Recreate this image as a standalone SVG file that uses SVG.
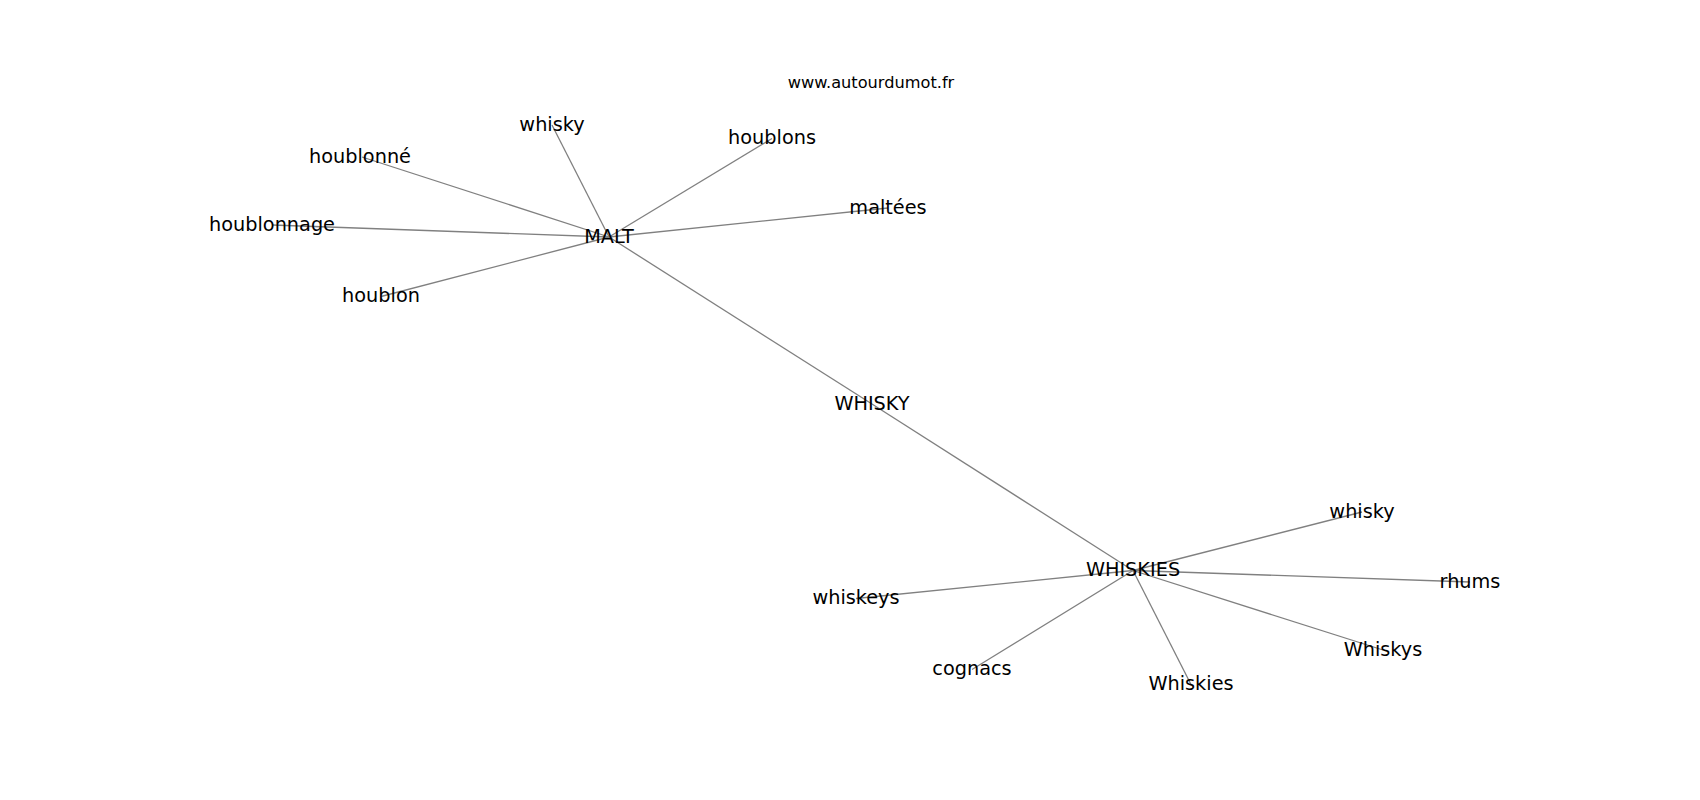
<svg xmlns="http://www.w3.org/2000/svg" width="1700" height="800" viewBox="0 0 1700 800">
<style>
  .bg { fill: #ffffff; }
  .edge { stroke: #808080; stroke-width: 1.3; fill: none; }
  .lbl { font-family: "DejaVu Sans", "Liberation Sans", sans-serif; font-size: 19.3px; fill: #000000; text-anchor: middle; }
  .site { font-family: "DejaVu Sans", "Liberation Sans", sans-serif; font-size: 16.2px; fill: #000000; text-anchor: middle; }
</style>
<rect class="bg" x="0" y="0" width="1700" height="800"/>
<text class="site" x="871" y="88">www.autourdumot.fr</text>
<g id="edges">
  <line class="edge" x1="609" y1="237" x2="552" y2="125"/>
  <line class="edge" x1="609" y1="237" x2="362" y2="157"/>
  <line class="edge" x1="609" y1="237" x2="272" y2="225"/>
  <line class="edge" x1="609" y1="237" x2="381" y2="296.5"/>
  <line class="edge" x1="609" y1="237" x2="772" y2="138.5"/>
  <line class="edge" x1="609" y1="237" x2="888" y2="208"/>
  <line class="edge" x1="609" y1="237" x2="872" y2="404"/>
  <line class="edge" x1="872" y1="404" x2="1133" y2="570.5"/>
  <line class="edge" x1="1133" y1="570.5" x2="856" y2="598.5"/>
  <line class="edge" x1="1133" y1="570.5" x2="972" y2="669.5"/>
  <line class="edge" x1="1133" y1="570.5" x2="1191" y2="684.5"/>
  <line class="edge" x1="1133" y1="570.5" x2="1362" y2="512"/>
  <line class="edge" x1="1133" y1="570.5" x2="1470" y2="582"/>
  <line class="edge" x1="1133" y1="570.5" x2="1383" y2="650"/>
</g>
<g id="node-MALT"><text class="lbl" x="609" y="242.5">MALT</text></g>
<g id="node-whisky-1"><text class="lbl" x="552" y="130.5">whisky</text></g>
<g id="node-houblonne"><text class="lbl" x="360" y="162.5">houblonné</text></g>
<g id="node-houblonnage"><text class="lbl" x="272" y="230.5">houblonnage</text></g>
<g id="node-houblon"><text class="lbl" x="381" y="302">houblon</text></g>
<g id="node-houblons"><text class="lbl" x="772" y="144">houblons</text></g>
<g id="node-maltees"><text class="lbl" x="888" y="213.5">maltées</text></g>
<g id="node-WHISKY"><text class="lbl" x="872" y="409.5">WHISKY</text></g>
<g id="node-WHISKIES"><text class="lbl" x="1133" y="576">WHISKIES</text></g>
<g id="node-whiskeys"><text class="lbl" x="856" y="604">whiskeys</text></g>
<g id="node-cognacs"><text class="lbl" x="972" y="675">cognacs</text></g>
<g id="node-Whiskies"><text class="lbl" x="1191" y="690">Whiskies</text></g>
<g id="node-whisky-2"><text class="lbl" x="1362" y="517.5">whisky</text></g>
<g id="node-rhums"><text class="lbl" x="1470" y="587.5">rhums</text></g>
<g id="node-Whiskys"><text class="lbl" x="1383" y="655.5">Whiskys</text></g>
</svg>
